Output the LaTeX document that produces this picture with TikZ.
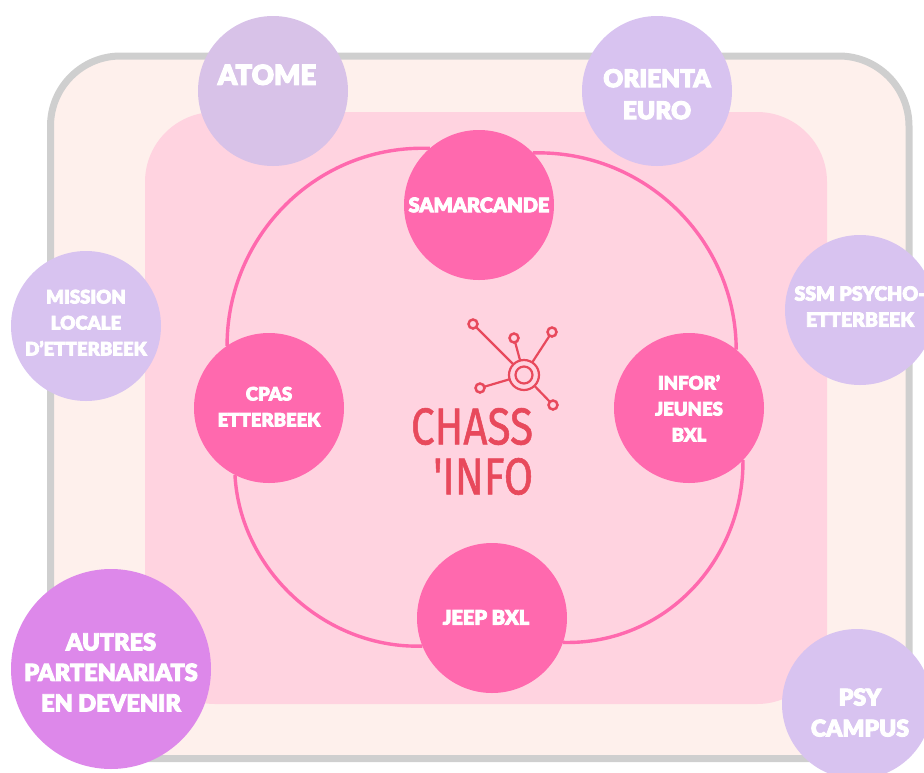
\documentclass[tikz,border=0pt]{standalone}
\usepackage{fontspec}
\setmainfont{Lato}[BoldFont={Lato Black},BoldFeatures={FakeBold=4}]
\newfontfamily\logofont{Fira Sans}[FakeBold=1.2]
\definecolor{outerfill}{HTML}{FEF0EC}
\definecolor{outerline}{HTML}{CFCFCF}
\definecolor{innerfill}{HTML}{FFD3E0}
\definecolor{hot}{HTML}{FF69AE}
\definecolor{lilac}{HTML}{D8C3F0}
\definecolor{lilacb}{HTML}{D8C2E8}
\definecolor{orchid}{HTML}{DD88EA}
\definecolor{logored}{HTML}{E8495C}
% #1 lift, #2 shift to the right, #3 lines of text
\newcommand{\shifted}[3]{\raisebox{#1}[0pt][0pt]{\makebox[0pt][c]{\hspace*{#2}\hspace*{#2}\begin{tabular}{@{}c@{}}#3\end{tabular}}}}
\tikzset{
  x=1pt,y=-1pt,
  disc/.style={circle,minimum size=150pt,inner sep=0pt,outer sep=0pt,text=white,align=center,font=\bfseries\fontsize{18.6}{26}\selectfont},
  hotdisc/.style={disc,fill=hot,font=\bfseries\fontsize{18.5}{26}\selectfont},
  liladisc/.style={disc,fill=lilac},
  ring/.style={hot,line width=3.4pt},
  sat/.style={circle,draw=logored,line width=2.5pt,minimum size=9pt,inner sep=0pt,outer sep=0pt},
  logoline/.style={draw=logored,line width=2.2pt},
  logotext/.style={text=logored,inner sep=0pt,font=\logofont\fontsize{48}{42}\selectfont}
}
\begin{document}
\begin{tikzpicture}
\useasboundingbox (0,0) rectangle (924,772);
\draw[fill=outerfill,draw=outerline,line width=7pt,rounded corners=70pt] (50.5,56) rectangle (909,758.5);
\fill[innerfill,rounded corners=70pt] (145,112) rectangle (827,704);
\node[disc,fill=lilacb,font=\bfseries\fontsize{27.5}{30}\selectfont] (atome) at (273,91) {\shifted{6pt}{-6pt}{ATOME}};
\node[liladisc,font=\bfseries\fontsize{24.5}{32}\selectfont] (orienta) at (657,91) {\shifted{-12pt}{0pt}{ORIENTA\\EURO}};
\node[liladisc,font=\bfseries\fontsize{19.5}{26}\selectfont] (ssm) at (860,310) {\shifted{-3.6pt}{0pt}{SSM PSYCHO-\\ETTERBEEK}};
\node[liladisc] (mission) at (86,326) {\shifted{-2.6pt}{0pt}{MISSION\\LOCALE\\D'ETTERBEEK}};
\node[liladisc,font=\bfseries\fontsize{23}{31}\selectfont] (psy) at (857,704) {\shifted{-17pt}{3pt}{PSY\\CAMPUS}};
\node[disc,fill=orchid,minimum size=200pt,font=\bfseries\fontsize{23.5}{30.5}\selectfont] (autres) at (111,669) {\shifted{-12pt}{0pt}{AUTRES\\PARTENARIATS\\EN DEVENIR}};
\node[hotdisc,font=\bfseries\fontsize{20}{26}\selectfont] (sam) at (479,205) {\shifted{-7.2pt}{0pt}{SAMARCANDE}};
\node[hotdisc] (cpas) at (269,408) {\shifted{-4.6pt}{0pt}{CPAS\\ETTERBEEK}};
\node[hotdisc] (infor) at (689,408) {\shifted{-6.6pt}{0pt}{INFOR'\\JEUNES\\BXL}};
\node[hotdisc,font=\bfseries\fontsize{20}{26}\selectfont] (jeep) at (492,618) {\shifted{-6.6pt}{-6pt}{JEEP BXL}};
\draw[ring] (sam.131) .. controls (318,144) and (227,235) .. (cpas.124);
\draw[ring] (sam.44.5) .. controls (645,150) and (736,240) .. (infor.51);
\draw[ring] (cpas.243) .. controls (240,570) and (325,649) .. (jeep.202);
\draw[ring] (infor.-44.5) .. controls (744,560) and (665,645) .. (jeep.-19);
% logo
\node[circle,draw=logored,line width=2.2pt,minimum size=30pt,inner sep=0pt,outer sep=0pt] (hub) at (524,375) {};
\node[circle,draw=logored,line width=2.2pt,minimum size=17pt,inner sep=0pt] (hubcore) at (524,375) {};
\node[sat] (s1) at (473,324) {};
\node[sat] (s2) at (514,338) {};
\node[sat] (s3) at (552,332) {};
\node[sat] (s4) at (480,388) {};
\node[sat] (s5) at (553,405) {};
\foreach \s in {s1,s2,s3,s4,s5} \draw[logoline] (hub) -- (\s);
\node[logotext] (logo) at (472,458) {\scalebox{0.88}[1.08]{\begin{tabular}{@{}r@{}}CHASS\\'INFO\end{tabular}}};
\end{tikzpicture}
\end{document}
